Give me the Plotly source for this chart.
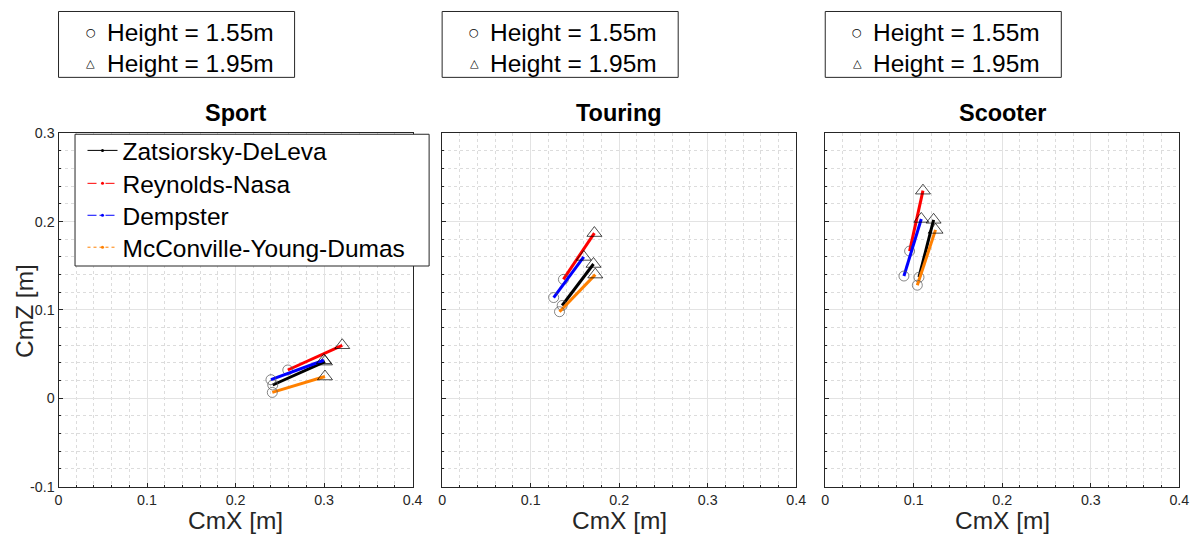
import plotly.graph_objects as go

W, H = 1195, 536

models = ["Zatsiorsky-DeLeva", "Reynolds-Nasa", "Dempster", "McConville-Young-Dumas"]
colors = ["#000000", "#ff0000", "#0000ff", "#ff8000"]
legend_dash = ["solid", "dash", "dashdot", "dot"]
panels = ["Sport", "Touring", "Scooter"]

# CmX / CmZ for height 1.55 m and 1.95 m, per model
sport_x155 = [0.242, 0.259, 0.240, 0.2415]
sport_z155 = [0.015, 0.032, 0.021, 0.0066]
sport_x195 = [0.301, 0.3205, 0.2998, 0.301]
sport_z195 = [0.0415, 0.060, 0.043, 0.0246]

touring_x155 = [0.1356, 0.137, 0.126, 0.1326]
touring_z155 = [0.105, 0.1346, 0.114, 0.098]
touring_x195 = [0.171, 0.172, 0.160, 0.173]
touring_z195 = [0.152, 0.187, 0.160, 0.140]

scooter_x155 = [0.1059, 0.0953, 0.0889, 0.104]
scooter_z155 = [0.137, 0.1666, 0.1384, 0.128]
scooter_x195 = [0.1224, 0.1104, 0.1085, 0.1246]
scooter_z195 = [0.202, 0.235, 0.203, 0.1906]

x_ticks = [0, 0.1, 0.2, 0.3, 0.4]
x_ticklabels = ["0", "0.1", "0.2", "0.3", "0.4"]
y_ticks = [-0.1, 0, 0.1, 0.2, 0.3]
y_ticklabels = ["-0.1", "0", "0.1", "0.2", "0.3"]

data = [
    (sport_x155, sport_z155, sport_x195, sport_z195),
    (touring_x155, touring_z155, touring_x195, touring_z195),
    (scooter_x155, scooter_z155, scooter_x195, scooter_z195),
]

FONT = "Liberation Sans, Arial, Helvetica, sans-serif"
TXT = "#262626"

# page-to-picture compensation (figure is rendered slightly scaled)
AX, BX = 0.988, 4.0
AY, BY = 0.972, 7.5
SC = 1 / ((AX + AY) / 2)


def fx(px):
    return ((px - BX) / AX) / W


def fy(py):
    return 1 - ((py - BY) / AY) / H


px_left = [58.5, 442, 825]
px_w = 354
top_px, bot_px = 133, 487
legend_rows = [152, 185, 217, 249]
legend_names = ["legend", "legend2", "legend3", "legend4"]

fig = go.Figure()

for p in range(3):
    xs155, zs155, xs195, zs195 = data[p]
    xa = "x" if p == 0 else f"x{p+1}"
    ya = "y" if p == 0 else f"y{p+1}"
    for i in range(4):
        fig.add_trace(go.Scatter(
            x=[xs155[i], xs195[i]], y=[zs155[i], zs195[i]],
            mode="lines+markers", xaxis=xa, yaxis=ya, showlegend=False,
            line=dict(color=colors[i], width=3),
            marker=dict(symbol=["circle-open", "triangle-up-open"],
                        size=[10, 13], color=["#555555", "#000000"],
                        line=dict(width=1)),
            hoverinfo="skip"))

# legend-only entries, one legend per row
for i in range(4):
    fig.add_trace(go.Scatter(
        x=[None], y=[None], mode="lines+markers", name=models[i],
        line=dict(color=colors[i], width=1, dash=legend_dash[i]),
        marker=dict(color=colors[i], size=3, symbol="circle"),
        showlegend=True, legend=legend_names[i]))

LEG_FS = 24.5
layout = dict(
    width=W, height=H, margin=dict(l=0, r=0, t=0, b=0),
    paper_bgcolor="white", plot_bgcolor="white",
    font=dict(family=FONT, color=TXT),
)
for i in range(4):
    layout[legend_names[i]] = dict(
        x=((123 - BX) / AX - 41) / W,
        y=1 - ((legend_rows[i] - BY) / AY - 25) / H,
        xanchor="left", yanchor="top",
        bgcolor="rgba(0,0,0,0)", borderwidth=0,
        font=dict(size=LEG_FS, color="#000000", family=FONT),
        itemwidth=30)

for p in range(3):
    sx = "" if p == 0 else str(p + 1)
    xdom = [fx(px_left[p]), fx(px_left[p] + px_w)]
    ydom = [fy(bot_px), fy(top_px)]
    common = dict(showline=True, linecolor="#262626", linewidth=1, mirror=True,
                  ticks="inside", ticklen=4, tickcolor="#262626",
                  showgrid=True, gridcolor="#e3e3e3", gridwidth=1,
                  zeroline=False,
                  tickfont=dict(size=14 * SC, color=TXT, family=FONT))
    fig_x = dict(common, domain=xdom, range=[0, 0.4], tickmode="array",
                 tickvals=x_ticks, ticktext=x_ticklabels,
                 anchor="y" + sx,
                 minor=dict(dtick=0.02, tick0=0, showgrid=True, gridcolor="#dcdcdc",
                            griddash="dot", ticks="inside", ticklen=2,
                            tickcolor="#262626"))
    fig_y = dict(common, domain=ydom, range=[-0.1, 0.3], tickmode="array",
                 tickvals=y_ticks,
                 ticktext=y_ticklabels if p == 0 else [""] * 5,
                 anchor="x" + sx,
                 minor=dict(dtick=0.02, tick0=0, showgrid=True, gridcolor="#dcdcdc",
                            griddash="dot", ticks="inside", ticklen=2,
                            tickcolor="#262626"))
    layout["xaxis" + sx] = fig_x
    layout["yaxis" + sx] = fig_y

fig.update_layout(**layout)

annotations = []
shapes = []
# box behind the model legend
shapes.append(dict(type="rect", xref="paper", yref="paper", layer="above",
                   x0=fx(75), x1=fx(429), y0=fy(266), y1=fy(134),
                   line=dict(color="#262626", width=1), fillcolor="white"))
for p in range(3):
    cx = px_left[p] + px_w / 2
    annotations.append(dict(text="<b>" + panels[p] + "</b>", x=fx(cx), y=fy(113),
                            xref="paper", yref="paper", showarrow=False,
                            xanchor="center", yanchor="middle",
                            font=dict(size=23 * SC, color="#000000", family=FONT)))
    annotations.append(dict(text="CmX [m]", x=fx(cx), y=fy(521),
                            xref="paper", yref="paper", showarrow=False,
                            xanchor="center", yanchor="middle",
                            font=dict(size=24 * SC, color=TXT, family=FONT)))
    bx0 = px_left[p]
    shapes.append(dict(type="rect", xref="paper", yref="paper",
                       x0=fx(bx0), x1=fx(bx0 + 236), y0=fy(77), y1=fy(11),
                       line=dict(color="#262626", width=1), fillcolor="white"))
    for j, (sym, lab, ypx) in enumerate([("○", "Height = 1.55m", 32), ("△", "Height = 1.95m", 63)]):
        annotations.append(dict(text=sym, x=fx(bx0 + 32), y=fy(ypx),
                                xref="paper", yref="paper", showarrow=False,
                                xanchor="center", yanchor="middle",
                                font=dict(size=11 * SC, color="#000000", family="DejaVu Sans")))
        annotations.append(dict(text=lab, x=fx(bx0 + 46), y=fy(ypx),
                                xref="paper", yref="paper", showarrow=False,
                                xanchor="left", yanchor="middle",
                                font=dict(size=24 * SC, color="#000000", family=FONT)))

annotations.append(dict(text="CmZ [m]", x=fx(25), y=fy(311), textangle=-90,
                        xref="paper", yref="paper", showarrow=False,
                        xanchor="center", yanchor="middle",
                        font=dict(size=24 * SC, color=TXT, family=FONT)))

fig.update_layout(annotations=annotations, shapes=shapes)
fig.write_html("out.html")
